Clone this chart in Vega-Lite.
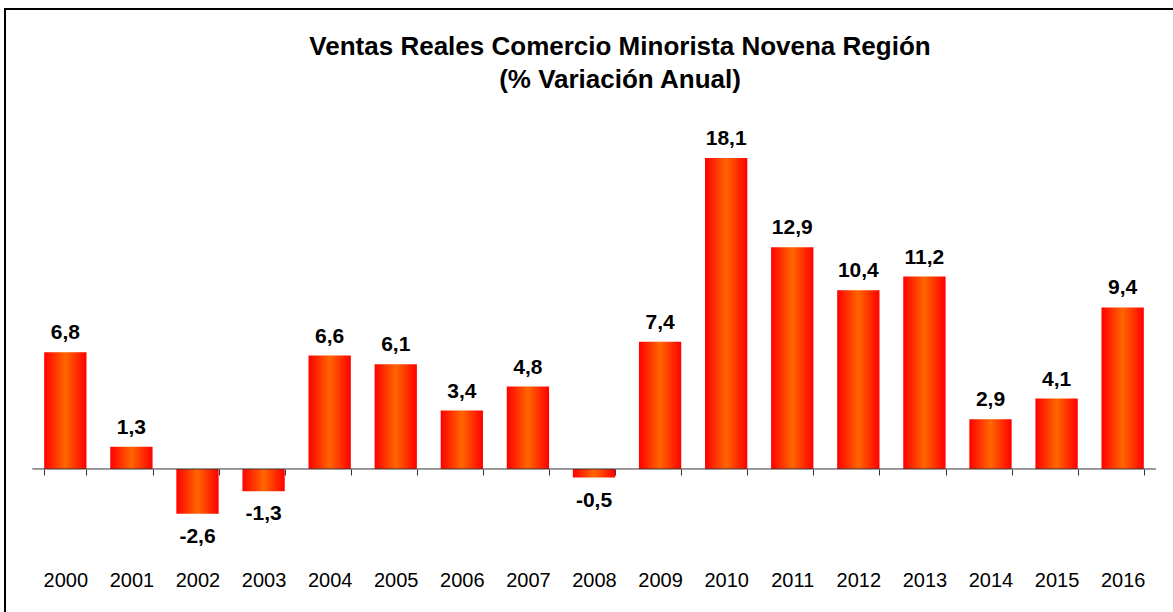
{
  "$schema": "https://vega.github.io/schema/vega-lite/v6.json",
  "width": 1178,
  "height": 606,
  "autosize": {"type": "none"},
  "padding": {"left": 5, "top": 9, "right": 0, "bottom": 0},
  "background": "white",
  "config": {
    "view": {"stroke": "#000000", "strokeWidth": 2},
    "locale": {"number": {"decimal": ",", "thousands": ".", "grouping": [3], "currency": ["$", ""], "minus": "-"}}
  },
  "title": {
    "text": ["Ventas Reales Comercio Minorista Novena Región", "(% Variación Anual)"],
    "font": "Liberation Sans",
    "fontSize": 26,
    "fontWeight": "bold",
    "color": "#000000",
    "anchor": "middle",
    "baseline": "top",
    "offset": 0,
    "dx": 26,
    "dy": 84,
    "lineHeight": 33
  },
  "data": {
    "values": [
      {"year": "2000", "value": 6.8},
      {"year": "2001", "value": 1.3},
      {"year": "2002", "value": -2.6},
      {"year": "2003", "value": -1.3},
      {"year": "2004", "value": 6.6},
      {"year": "2005", "value": 6.1},
      {"year": "2006", "value": 3.4},
      {"year": "2007", "value": 4.8},
      {"year": "2008", "value": -0.5},
      {"year": "2009", "value": 7.4},
      {"year": "2010", "value": 18.1},
      {"year": "2011", "value": 12.9},
      {"year": "2012", "value": 10.4},
      {"year": "2013", "value": 11.2},
      {"year": "2014", "value": 2.9},
      {"year": "2015", "value": 4.1},
      {"year": "2016", "value": 9.4}
    ]
  },
  "layer": [
    {
      "encoding": {
        "x": {
          "field": "year",
          "type": "ordinal",
          "scale": {"paddingInner": 0.36, "paddingOuter": 0.593},
          "axis": {
            "orient": "bottom",
            "offset": -146,
            "domain": false,
            "ticks": true,
            "tickBand": "extent",
            "tickSize": 6,
            "tickColor": "#333333",
            "tickWidth": 1,
            "labelAngle": 0,
            "labelPadding": 95,
            "labelFont": "Liberation Sans",
            "labelFontSize": 20,
            "labelColor": "#000000",
            "title": null
          }
        },
        "y": {
          "field": "value",
          "type": "quantitative",
          "scale": {"domain": [-8.5, 26.775], "nice": false, "zero": false},
          "axis": null
        }
      },
      "layer": [
        {
          "mark": {
            "type": "bar",
            "color": {
              "gradient": "linear",
              "x1": 0, "y1": 0, "x2": 1, "y2": 0,
              "stops": [
                {"offset": 0, "color": "#ff0000"},
                {"offset": 0.5, "color": "#ff6600"},
                {"offset": 1, "color": "#ff0000"}
              ]
            }
          }
        },
        {
          "transform": [{"filter": "datum.value >= 0"}],
          "mark": {"type": "text", "baseline": "alphabetic", "dy": -13, "font": "Liberation Sans", "fontSize": 21, "fontWeight": "bold", "color": "#000000"},
          "encoding": {
            "text": {"field": "value", "type": "quantitative", "format": ".1f"}
          }
        },
        {
          "transform": [{"filter": "datum.value < 0"}],
          "mark": {"type": "text", "baseline": "alphabetic", "dy": 29, "font": "Liberation Sans", "fontSize": 21, "fontWeight": "bold", "color": "#000000"},
          "encoding": {
            "text": {"field": "value", "type": "quantitative", "format": ".1f"}
          }
        }
      ]
    },
    {
      "data": {"values": [{"start": 1999.5, "end": 2016.5, "zero": 0}]},
      "mark": {"type": "rule", "color": "#333333", "strokeWidth": 1},
      "encoding": {
        "x": {"field": "start", "type": "quantitative", "scale": {"domain": [1999.087, 2016.909], "nice": false, "zero": false}, "axis": null},
        "x2": {"field": "end"},
        "y": {"field": "zero", "type": "quantitative"}
      }
    }
  ],
  "resolve": {"scale": {"x": "independent"}}
}
